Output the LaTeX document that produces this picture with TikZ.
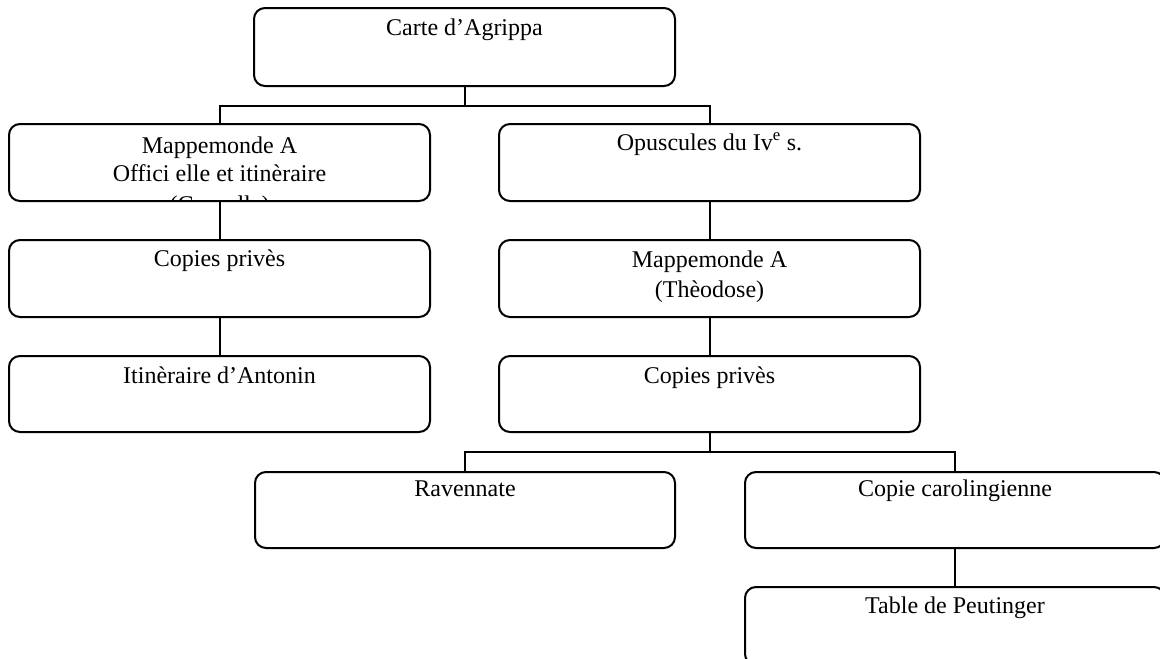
\documentclass[tikz,border=0pt]{standalone}
\usepackage{fontspec}
\setmainfont{Liberation Serif}
\begin{document}
\begin{tikzpicture}[x=1pt,y=-1pt,
  box/.style={draw, rounded corners=11pt, line width=2pt, inner sep=0pt, outer sep=0pt, anchor=north west},
  lbl/.style={anchor=base, inner sep=0pt, font=\fontsize{24}{29}\selectfont},
  conn/.style={line width=2pt}]
\useasboundingbox (0,0) rectangle (1160,659);
\fill[white] (0,0) rectangle (1160,659);
\clip (0,0) rectangle (1160,659);
% boxes
\node[box, minimum width=421pt, minimum height=78pt] (a) at (254,8) {};
\node[box, minimum width=421pt, minimum height=77pt] (b1) at (9,124) {};
\node[box, minimum width=421pt, minimum height=77pt] (b2) at (499,124) {};
\node[box, minimum width=421pt, minimum height=77pt] (c1) at (9,240) {};
\node[box, minimum width=421pt, minimum height=77pt] (c2) at (499,240) {};
\node[box, minimum width=421pt, minimum height=76pt] (d1) at (9,356) {};
\node[box, minimum width=421pt, minimum height=76pt] (d2) at (499,356) {};
\node[box, minimum width=420pt, minimum height=76pt] (e1) at (255,472) {};
\node[box, minimum width=420pt, minimum height=76pt] (e2) at (745,472) {};
\node[box, minimum width=420pt, minimum height=78pt] (f) at (745,587) {};
% labels
\node[lbl] (ta) at ([yshift=-27pt]a.north) {Carte d’Agrippa};
\begin{scope}
\clip ([xshift=2pt,yshift=-1pt]b1.north west) rectangle ([xshift=-2pt,yshift=1pt]b1.south east);
\node[lbl] (tb1a) at ([yshift=-29pt]b1.north) {Mappemonde A};
\node[lbl] (tb1b) at ([yshift=-57pt]b1.north) {Offici elle et itinèraire};
\node[lbl] (tb1c) at ([yshift=-88pt]b1.north) {(Conselle)};
\end{scope}
\node[lbl] (tb2) at ([yshift=-26pt]b2.north) {Opuscules du Iv\textsuperscript{e} s.};
\node[lbl] (tc1) at ([yshift=-26pt]c1.north) {Copies privès};
\node[lbl] (tc2a) at ([yshift=-27pt]c2.north) {Mappemonde A};
\node[lbl] (tc2b) at ([yshift=-57pt]c2.north) {(Thèodose)};
\node[lbl] (td1) at ([yshift=-27pt]d1.north) {Itinèraire d’Antonin};
\node[lbl] (td2) at ([yshift=-27pt]d2.north) {Copies privès};
\node[lbl] (te1) at ([yshift=-24pt]e1.north) {Ravennate};
\node[lbl] (te2) at ([yshift=-24pt]e2.north) {Copie carolingienne};
\node[lbl] (tf) at ([yshift=-26pt]f.north) {Table de Peutinger};
% connectors
\coordinate (j1) at ([yshift=-20pt]a.south);
\coordinate (j2) at ([yshift=-20pt]d2.south);
\draw[conn] (a.south) -- (j1);
\draw[conn] (b1.north) |- (j1) -| (b2.north);
\draw[conn] (b1.south) -- (c1.north);
\draw[conn] (c1.south) -- (d1.north);
\draw[conn] (b2.south) -- (c2.north);
\draw[conn] (c2.south) -- (d2.north);
\draw[conn] (d2.south) -- (j2);
\draw[conn] (e1.north) |- (j2) -| (e2.north);
\draw[conn] (e2.south) -- (f.north);
\end{tikzpicture}
\end{document}
